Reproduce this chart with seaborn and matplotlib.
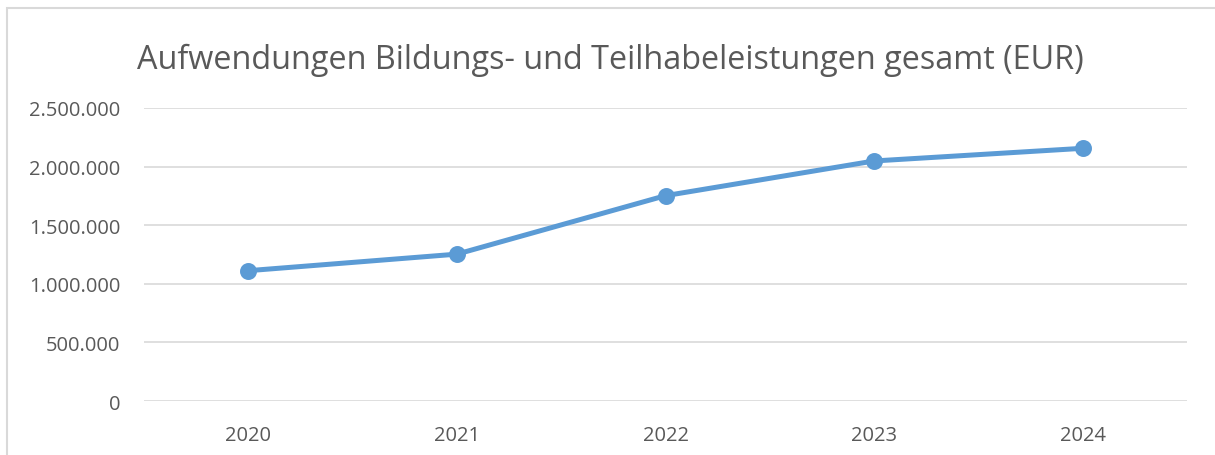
import pandas as pd
import matplotlib.pyplot as plt
import seaborn as sns
from matplotlib.ticker import FuncFormatter
from matplotlib.patches import Rectangle

# Data
years = ['2020', '2021', '2022', '2023', '2024']
expenses = [1112000, 1253000, 1752000, 2048000, 2156000]
y_ticks = [0, 500000, 1000000, 1500000, 2000000, 2500000]

df = pd.DataFrame({'Jahr': years, 'EUR': expenses})

sns.set_style('white')
plt.rcParams['font.family'] = ['Open Sans', 'DejaVu Sans']

fig = plt.figure(figsize=(12.15, 4.56), dpi=100)
ax = fig.add_axes([0.1185, 0.1184, 0.8585, 0.6426])

sns.pointplot(data=df, x='Jahr', y='EUR', color='#5B9BD5', ax=ax,
              markers='o', markersize=9.5, linewidth=3.6, errorbar=None)

ax.set_ylim(0, 2500000)
ax.set_xlim(-0.5, len(years) - 0.5)
ax.set_yticks(y_ticks)
ax.yaxis.set_major_formatter(FuncFormatter(lambda v, p: f'{v:,.0f}'.replace(',', '.')))
ax.grid(axis='y', color='#D9D9D9', linewidth=1.2)
ax.set_axisbelow(True)
for s in ax.spines.values():
    s.set_visible(False)
ax.tick_params(axis='both', length=0, labelsize=14.5, colors='#595959')
ax.tick_params(axis='y', pad=17)
ax.tick_params(axis='x', pad=17)
ax.set_xlabel('')
ax.set_ylabel('')

fig.suptitle('Aufwendungen Bildungs- und Teilhabeleistungen gesamt (EUR)',
             x=0.502, y=0.905, fontsize=23.3, color='#595959')

# chart frame (only top and left edges visible in the crop)
fig.add_artist(Rectangle((0.0058, -0.1), 1.2, 1.08, transform=fig.transFigure,
                         fill=False, edgecolor='#D9D9D9', linewidth=1.5))

fig.savefig('out.png', dpi=100)
